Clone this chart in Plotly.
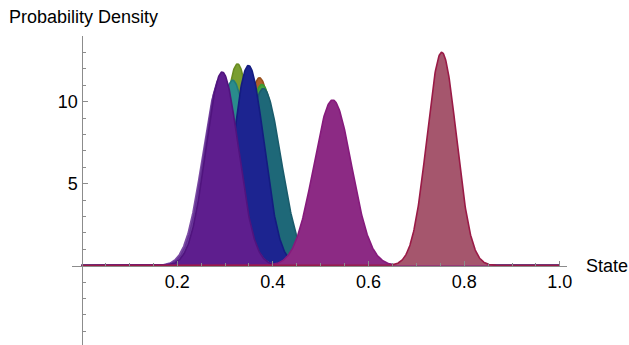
import numpy as np
import plotly.graph_objects as go

# Distributions (bottom-to-top drawing order)
names = ["orange", "green", "teal", "olive", "cyan", "blue",
         "violet_light", "violet_mid", "violet", "magenta", "wine"]
means = [0.372, 0.377, 0.380, 0.326, 0.316, 0.349,
         0.289, 0.291, 0.294, 0.525, 0.753]
peaks = [11.45, 11.05, 10.8, 12.3, 11.3, 12.2,
         11.2, 11.5, 11.8, 10.1, 13.0]
fills = ["#b0602c", "#48a040", "#1e6878", "#7a9e30", "#2a8c8c", "#1c2490",
         "#8c5cb4", "#7442a4", "#5e1e8e", "#8c2a84", "#a5566d"]
lines = ["#98501c", "#3a9a30", "#1a5c6c", "#6a8c20", "#207c7c", "#141c80",
         "#7c4ca4", "#643294", "#50147e", "#861a7c", "#9a1a46"]

x_ticks = [0.2, 0.4, 0.6, 0.8, 1.0]
x_ticktext = ["0.2", "0.4", "0.6", "0.8", "1.0"]
y_ticks = [5, 10]
y_ticktext = ["5", "10"]

xs = np.linspace(0, 1, 1001)

fig = go.Figure()
for n, m, p, fc, lc in zip(names, means, peaks, fills, lines):
    sd = 1.0 / (p * np.sqrt(2 * np.pi))
    ys = p * np.exp(-0.5 * ((xs - m) / sd) ** 2)
    fig.add_trace(go.Scatter(x=xs, y=ys, mode="lines", name=n,
                             fill="tozeroy", fillcolor=fc,
                             line=dict(color=lc, width=1.6),
                             opacity=0.92, showlegend=False))

xr = [-0.02, 1.015]
yr = [-4.84, 14.0]
font = dict(family="Liberation Sans, Arial, sans-serif", size=18, color="#000")
x_axis_pos = (0 - yr[0]) / (yr[1] - yr[0])
y_axis_pos = (0 - xr[0]) / (xr[1] - xr[0])

fig.update_layout(
    width=629, height=345,
    margin=dict(l=72, r=62, t=36, b=0),
    paper_bgcolor="white", plot_bgcolor="white",
    font=font,
    xaxis=dict(range=xr, anchor="free", position=x_axis_pos,
               showline=True, linecolor="#8c8c8c", linewidth=1.2,
               showgrid=False, zeroline=False,
               tickmode="array", tickvals=x_ticks, ticktext=x_ticktext,
               ticks="inside", ticklen=5, tickcolor="#8c8c8c", tickwidth=1,
               minor=dict(tickvals=[0.05, 0.1, 0.15, 0.25, 0.3, 0.35, 0.45, 0.5, 0.55,
                                    0.65, 0.7, 0.75, 0.85, 0.9, 0.95],
                          ticks="inside", ticklen=3, tickcolor="#8c8c8c", showgrid=False),
               tickfont=font),
    yaxis=dict(range=yr, anchor="free", position=y_axis_pos,
               showline=True, linecolor="#8c8c8c", linewidth=1.2,
               showgrid=False, zeroline=False,
               tickmode="array", tickvals=y_ticks, ticktext=y_ticktext,
               ticks="inside", ticklen=5, tickcolor="#8c8c8c", tickwidth=1,
               minor=dict(tickvals=[-4, -3, -2, -1, 1, 2, 3, 4, 6, 7, 8, 9, 11, 12, 13, 14],
                          ticks="inside", ticklen=3, tickcolor="#8c8c8c", showgrid=False),
               tickfont=font),
    annotations=[
        dict(text="Probability Density", x=-0.131, y=1.06, xref="paper", yref="paper",
             xanchor="left", yanchor="middle", showarrow=False, font=font),
        dict(text="State", x=1.034, y=x_axis_pos, xref="paper", yref="paper",
             xanchor="left", yanchor="middle", showarrow=False, font=font),
    ],
)

fig.write_html("out.html")
